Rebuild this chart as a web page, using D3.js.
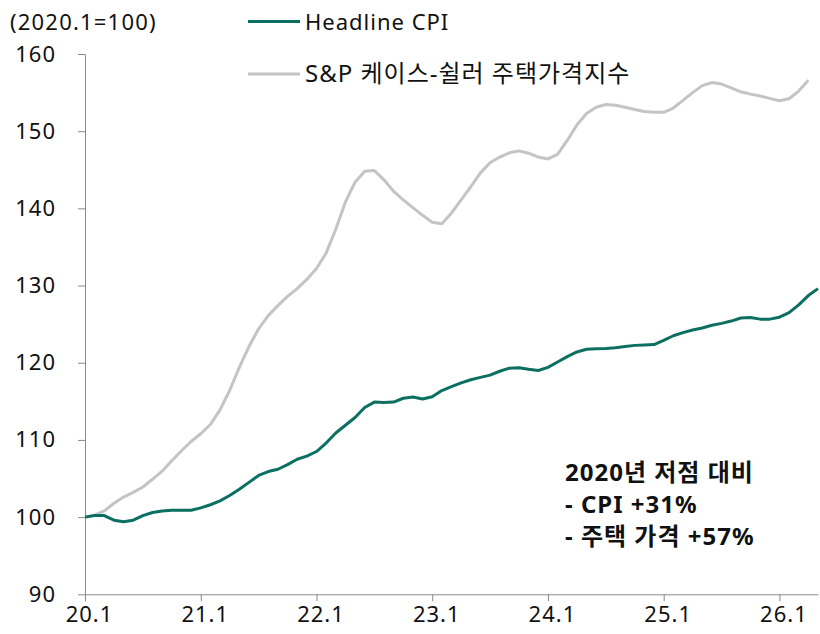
<!DOCTYPE html>
<html>
<head>
<meta charset="utf-8">
<script src="https://cdn.jsdelivr.net/npm/d3@7"></script>
<style>
  html, body { margin: 0; padding: 0; background: #fff; }
  svg text { font-family: "Noto Sans", "Noto Sans CJK KR", sans-serif; fill: #111; }
</style>
</head>
<body>
<div id="chart"></div>
<script>
// Monthly index, 2020.1 = 100
const cpi = [
  100.0, 100.2, 100.2, 99.6, 99.4, 99.6, 100.2, 100.6, 100.8, 100.9, 100.9, 100.9,
  101.2, 101.6, 102.1, 102.8, 103.6, 104.5, 105.4, 105.9, 106.2, 106.8, 107.5, 107.9,
  108.5, 109.6, 110.9, 111.9, 112.9, 114.2, 114.9, 114.85, 114.9, 115.4, 115.55, 115.3,
  115.6, 116.4, 116.9, 117.4, 117.8, 118.1, 118.4, 118.9, 119.3, 119.35, 119.15, 119.0,
  119.4, 120.1, 120.8, 121.4, 121.75, 121.8, 121.85, 121.95, 122.1, 122.25, 122.3, 122.35,
  122.9, 123.5, 123.9, 124.25, 124.5, 124.85, 125.1, 125.4, 125.8, 125.85, 125.65, 125.65,
  125.9, 126.5, 127.5, 128.7, 129.6
];
const caseShiller = [
  100.0, 100.25, 100.8, 101.8, 102.6, 103.2, 103.9, 104.9, 105.95, 107.3, 108.6, 109.8,
  110.8, 112.0, 113.9, 116.4, 119.4, 122.1, 124.4, 126.1, 127.4, 128.6, 129.6, 130.8,
  132.2, 134.2, 137.3, 140.8, 143.4, 144.8, 144.9, 143.7, 142.2, 141.1, 140.1, 139.1,
  138.2, 138.0, 139.4, 141.1, 142.8, 144.6, 145.9, 146.65, 147.2, 147.45, 147.15, 146.65,
  146.4, 147.0, 148.8, 150.8, 152.3, 153.1, 153.45, 153.35, 153.1, 152.8, 152.55, 152.45,
  152.45, 153.0, 154.0, 155.0, 155.9, 156.3, 156.1, 155.6, 155.1, 154.8, 154.55, 154.25,
  153.95, 154.2, 155.2, 156.6
];
const xTickIndex = [0, 12, 24, 36, 48, 60, 72];
const xTickLabels = ['20.1', '21.1', '22.1', '23.1', '24.1', '25.1', '26.1'];
const yTicks = [90, 100, 110, 120, 130, 140, 150, 160];
const seriesNames = ['Headline CPI', 'S&P 케이스-쉴러 주택가격지수'];
const noteLines = ['2020년 저점 대비', '- CPI +31%', '- 주택 가격 +57%'];

const W = 820, H = 634;
const colors = { cpi: '#0b6f61', hpi: '#c4c4c4', axis: '#8a8a8a' };

const svg = d3.select('#chart').append('svg')
  .attr('width', W)
  .attr('height', H);

const x = d3.scaleLinear().domain([0, 76]).range([85, 818]);
const y = d3.scaleLinear().domain([90, 160]).range([594.3, 54]);

// Y axis
const yAxis = svg.append('g')
  .attr('transform', `translate(${x(0)},0)`)
  .call(d3.axisLeft(y).tickValues(yTicks).tickSize(7).tickSizeOuter(0).tickPadding(22));
yAxis.select('.domain').attr('stroke', colors.axis);
yAxis.selectAll('.tick line').attr('stroke', colors.axis);
yAxis.selectAll('.tick text')
  .attr('font-size', 22).attr('letter-spacing', 1).attr('fill', '#111');

// X axis
const xAxis = svg.append('g')
  .attr('transform', `translate(0,${y(90)})`)
  .call(d3.axisBottom(x)
    .tickValues(xTickIndex)
    .tickFormat((d, i) => xTickLabels[i])
    .tickSize(7).tickSizeOuter(0).tickPadding(5));
xAxis.select('.domain').attr('stroke', colors.axis);
xAxis.selectAll('.tick line').attr('stroke', colors.axis);
xAxis.selectAll('.tick text')
  .attr('font-size', 22).attr('letter-spacing', 1).attr('fill', '#111').attr('dx', 4);

// Lines
const line = d3.line()
  .x((d, i) => x(i))
  .y(d => y(d));

svg.append('path')
  .datum(caseShiller)
  .attr('fill', 'none')
  .attr('stroke', colors.hpi)
  .attr('stroke-width', 3)
  .attr('stroke-linejoin', 'round')
  .attr('d', line);

svg.append('path')
  .datum(cpi)
  .attr('fill', 'none')
  .attr('stroke', colors.cpi)
  .attr('stroke-width', 3)
  .attr('stroke-linejoin', 'round')
  .attr('d', line);

// Unit label
svg.append('text')
  .attr('x', 10)
  .attr('y', 30)
  .attr('font-size', 22)
  .attr('letter-spacing', 1.2)
  .text('(2020.1=100)');

// Legend
const legend = svg.append('g').attr('transform', 'translate(248,0)');
const legendItems = [
  { name: seriesNames[0], color: colors.cpi, y: 21.5, size: 22 },
  { name: seriesNames[1], color: colors.hpi, y: 74, size: 24 }
];
legendItems.forEach(item => {
  legend.append('line')
    .attr('x1', 0).attr('x2', 52)
    .attr('y1', item.y).attr('y2', item.y)
    .attr('stroke', item.color)
    .attr('stroke-width', 3);
  legend.append('text')
    .attr('x', 57)
    .attr('y', item.y + 8)
    .attr('font-size', item.size)
    .attr('letter-spacing', 1)
    .text(item.name);
});

// Annotation
const note = svg.append('g').attr('transform', 'translate(565,0)');
noteLines.forEach((t, i) => {
  note.append('text')
    .attr('x', 0)
    .attr('y', 481 + i * 32)
    .attr('font-size', 24)
    .attr('font-weight', 'bold')
    .attr('letter-spacing', 1)
    .text(t);
});
</script>
</body>
</html>
